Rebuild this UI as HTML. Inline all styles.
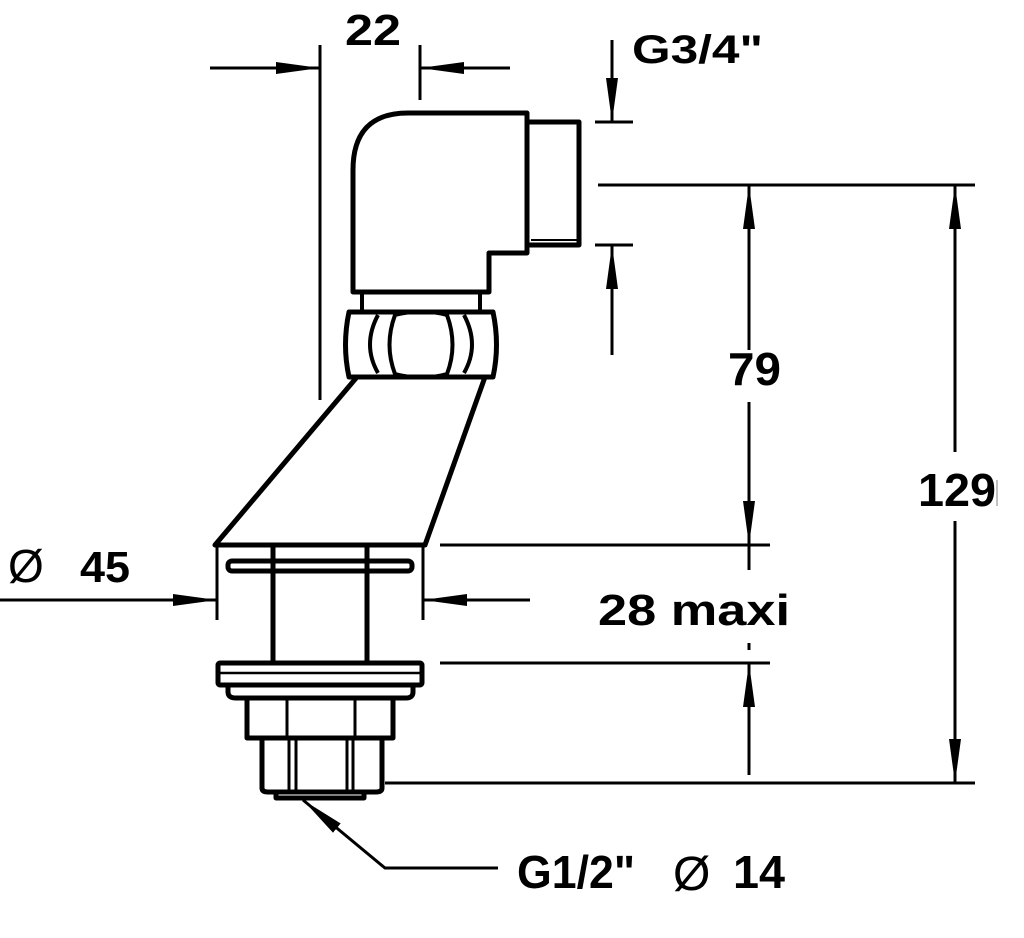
<!DOCTYPE html>
<html><head><style>html,body{margin:0;padding:0;background:#fff}svg{display:block}text{font-family:"Liberation Sans",sans-serif;font-weight:bold;fill:#000}</style></head>
<body>
<svg width="1024" height="938" viewBox="0 0 1024 938" xmlns="http://www.w3.org/2000/svg">
<defs>
<marker id="a" markerWidth="44" markerHeight="14" refX="44" refY="7" orient="auto" markerUnits="userSpaceOnUse">
<path d="M0,1 L44,7 L0,13 Z" fill="#000"/>
</marker>
</defs>
<g fill="none" stroke="#000" stroke-width="3">
<line x1="320" y1="45" x2="320" y2="400"/>
<line x1="420" y1="45" x2="420" y2="100"/>
<line x1="210" y1="68" x2="320" y2="68" marker-end="url(#a)"/>
<line x1="510" y1="68" x2="420" y2="68" marker-end="url(#a)"/>
<line x1="612" y1="40" x2="612" y2="122" marker-end="url(#a)"/>
<line x1="595" y1="122" x2="633" y2="122"/>
<line x1="595" y1="245" x2="633" y2="245"/>
<line x1="612" y1="355" x2="612" y2="245" marker-end="url(#a)"/>
<line x1="598" y1="185" x2="975" y2="185"/>
<line x1="440" y1="545" x2="770" y2="545"/>
<line x1="440" y1="663" x2="770" y2="663"/>
<line x1="385" y1="783" x2="975" y2="783"/>
<line x1="749" y1="350" x2="749" y2="185" marker-end="url(#a)"/>
<line x1="749" y1="402" x2="749" y2="545" marker-end="url(#a)"/>
<line x1="749" y1="545" x2="749" y2="570"/>
<line x1="749" y1="643" x2="749" y2="650"/>
<line x1="749" y1="775" x2="749" y2="663" marker-end="url(#a)"/>
<line x1="749" y1="663" x2="749" y2="775"/>
<line x1="955" y1="452" x2="955" y2="185" marker-end="url(#a)"/>
<line x1="955" y1="521" x2="955" y2="783" marker-end="url(#a)"/>
<line x1="217" y1="545" x2="217" y2="620"/>
<line x1="423" y1="545" x2="423" y2="620"/>
<line x1="0" y1="600" x2="217" y2="600" marker-end="url(#a)"/>
<line x1="530" y1="600" x2="423" y2="600" marker-end="url(#a)"/>
<polyline points="498,868 385,868 303,800" marker-end="url(#a)"/>
</g>
<line x1="997" y1="480" x2="997" y2="506" stroke="#aaa" stroke-width="1.5"/>
<g fill="none" stroke="#000" stroke-width="5" stroke-linejoin="round">
<path d="M408,113 L527,113 L527,253 L489,253 L489,292 L353,292 L353,170 Q353,113 408,113 Z"/>
<rect x="527" y="122" width="52" height="123"/>
<line x1="531" y1="240" x2="577" y2="240" stroke-width="2"/>
<rect x="362" y="292" width="118" height="20" stroke-width="4"/>
<path d="M349,312 L493,312 Q500,345 493,377 L349,377 Q342,345 349,312 Z"/>
<path d="M378,315 Q362,345 378,373 M464,315 Q480,345 464,373" stroke-width="4"/>
<path d="M395,315 Q422,308 447,315 Q458,345 447,374 Q422,381 395,374 Q384,345 395,315 Z" stroke-width="4"/>
<path d="M357,377 L215,545 L425,545 L485,377"/>
<rect x="228" y="561" width="184" height="10" rx="4"/>
<line x1="273" y1="547" x2="273" y2="662" stroke-width="5"/>
<line x1="367" y1="547" x2="367" y2="662" stroke-width="5"/>
<rect x="218" y="663" width="204" height="22" rx="2"/>
<line x1="220" y1="673" x2="420" y2="673" stroke-width="2.5"/>
<path d="M228,685 L228,692 Q228,698 236,698 L406,698 Q413,698 413,692 L413,685"/>
<rect x="247" y="698" width="146" height="40"/>
<line x1="287" y1="698" x2="287" y2="738" stroke-width="3"/>
<line x1="355" y1="698" x2="355" y2="738" stroke-width="3"/>
<path d="M262,738 L262,788 Q262,792 268,792 L376,792 Q382,792 382,788 L382,738"/>
<path d="M289,738 V792 M296,738 V792 M347,738 V792 M353,738 V792" stroke-width="3"/>
<path d="M276,792 L276,798 L364,798 L364,792"/>
</g>
<text x="345" y="45" font-size="44" textLength="56" lengthAdjust="spacingAndGlyphs">22</text>
<text x="632" y="63" font-size="40" textLength="131" lengthAdjust="spacingAndGlyphs">G3/4"</text>
<text x="728" y="385" font-size="46" textLength="53" lengthAdjust="spacingAndGlyphs">79</text>
<text x="918" y="506" font-size="46" textLength="78" lengthAdjust="spacingAndGlyphs">129</text>
<text x="8" y="582" font-size="46" style="font-weight:normal">Ø</text>
<text x="80" y="582" font-size="44" textLength="50" lengthAdjust="spacingAndGlyphs">45</text>
<text x="598" y="625" font-size="44" textLength="192" lengthAdjust="spacingAndGlyphs">28  maxi</text>
<text x="517" y="888" font-size="46" textLength="118" lengthAdjust="spacingAndGlyphs">G1/2"</text>
<text x="673" y="890" font-size="48" style="font-weight:normal">Ø</text>
<text x="733" y="888" font-size="46" textLength="52" lengthAdjust="spacingAndGlyphs">14</text>
</svg>
</body></html>
